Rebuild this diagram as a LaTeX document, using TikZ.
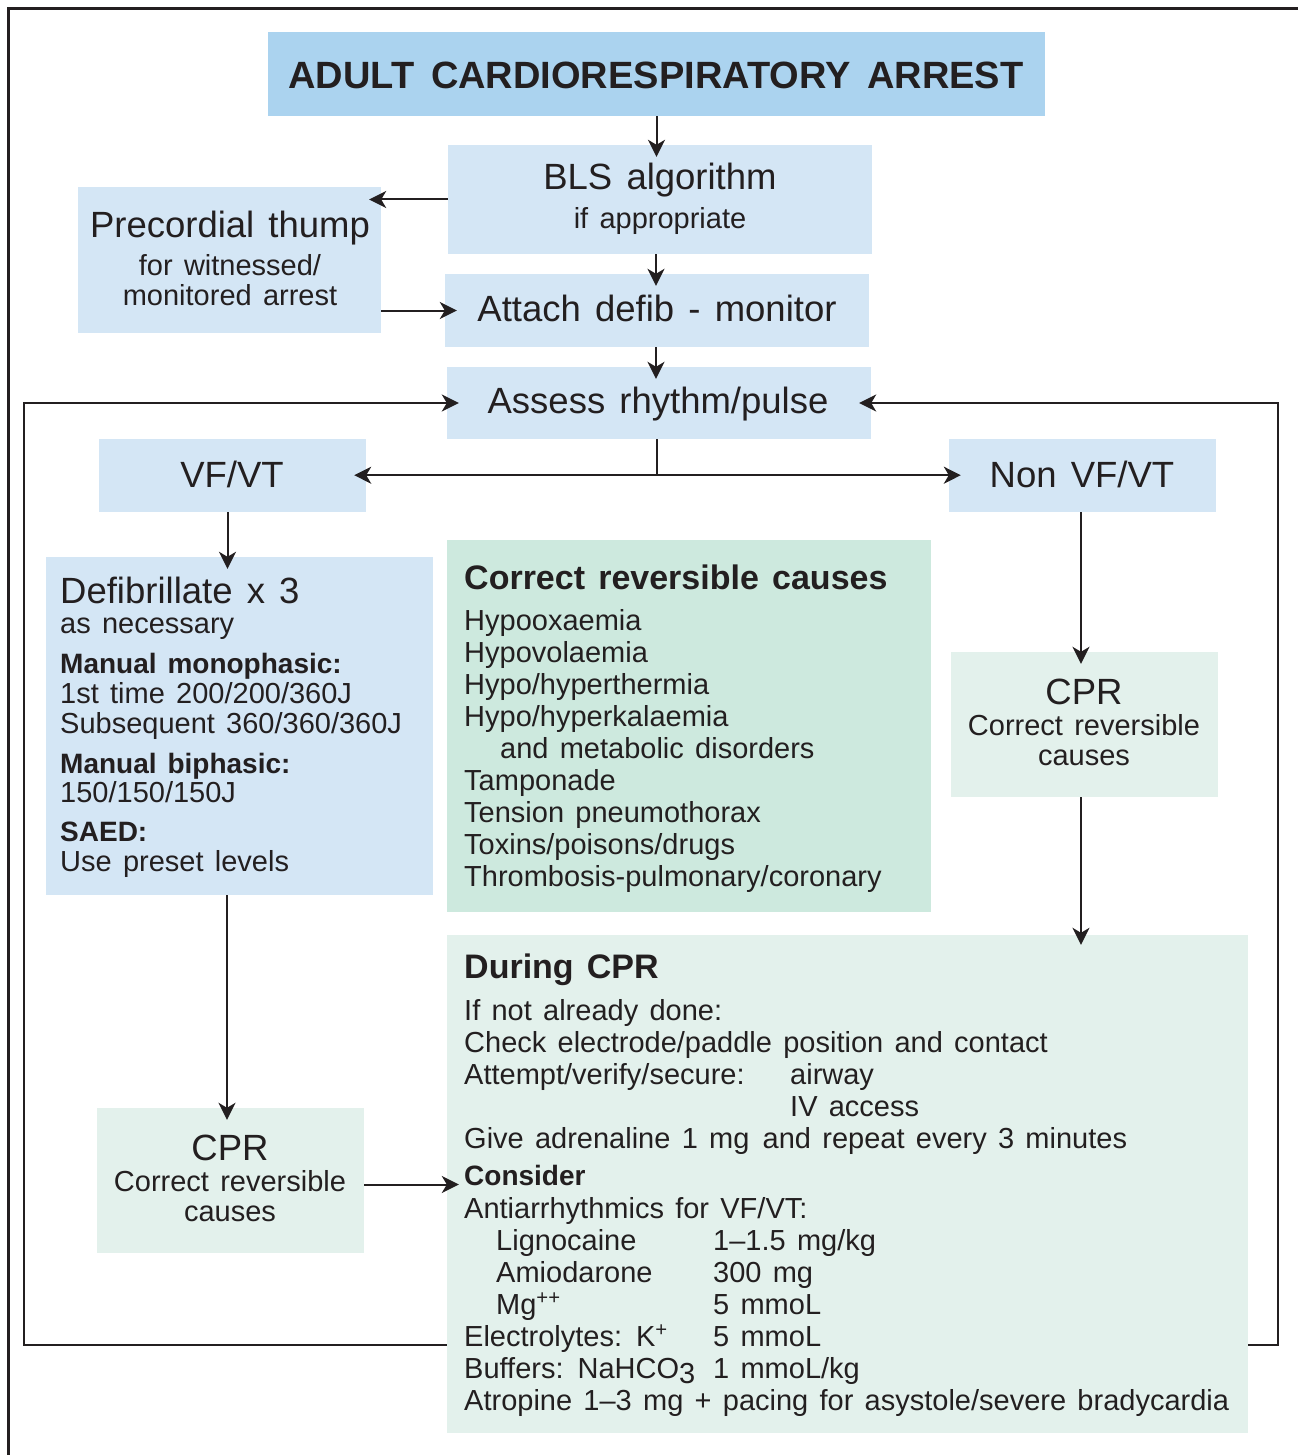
\documentclass[tikz,border=0pt]{standalone}
\usepackage{fontspec}
\setmainfont{Liberation Sans}[WordSpace=1.4]
\usetikzlibrary{arrows.meta,calc}
\definecolor{titleblue}{RGB}{171,211,239}
\definecolor{boxblue}{RGB}{212,230,245}
\definecolor{mint}{RGB}{205,233,222}
\definecolor{palegreen}{RGB}{227,241,236}
\definecolor{ink}{RGB}{35,31,32}
\newcommand\ftitle{\bfseries\fontsize{38}{42}\selectfont}
\newcommand\fbig{\fontsize{36.5}{40}\selectfont}
\newcommand\fbody{\fontsize{29}{32}\selectfont}
\newcommand\fhead{\bfseries\fontsize{34}{38}\selectfont}
\newcommand\fsub{\bfseries\fontsize{28}{32}\selectfont}
\begin{document}
\begin{tikzpicture}[x=1pt,y=-1pt,
  box/.style={rectangle, inner sep=0pt, draw=none},
  titlebox/.style={box, fill=titleblue},
  bluebox/.style={box, fill=boxblue},
  mintbox/.style={box, fill=mint},
  palebox/.style={box, fill=palegreen},
  arr/.style={-{Stealth[length=17pt,width=17pt,inset=5pt]}, line width=2pt, draw=ink},
  conn/.style={line width=2pt, draw=ink, line join=miter},
  tl/.style={inner sep=0pt, anchor=base west, text=ink, font=\fbody},
  tc/.style={inner sep=0pt, anchor=base, text=ink, font=\fbody},
]
\useasboundingbox (0,0) rectangle (1298,1455);
\fill[white] (0,0) rectangle (1298,1455);
% outer frame
\draw[line width=3pt, draw=ink] (8,1455) -- (8,9) -- (1298,9);

% boxes
\node[titlebox, minimum width=777pt, minimum height=84pt] (title) at (656.5,74) {};
\node[bluebox, minimum width=424pt, minimum height=109pt] (bls) at (660,199.5) {};
\node[bluebox, minimum width=303pt, minimum height=146pt] (prec) at (229.5,260) {};
\node[bluebox, minimum width=424pt, minimum height=73pt] (attach) at (657,310.5) {};
\node[bluebox, minimum width=424pt, minimum height=72pt] (assess) at (659,403) {};
\node[bluebox, minimum width=267pt, minimum height=73pt] (vf) at (232.5,475.5) {};
\node[bluebox, minimum width=267pt, minimum height=73pt] (nonvf) at (1082.5,475.5) {};
\node[bluebox, minimum width=387pt, minimum height=338pt] (defib) at (239.5,726) {};
\node[mintbox, minimum width=484pt, minimum height=372pt] (causes) at (689,726) {};
\node[palebox, minimum width=267pt, minimum height=145pt] (cprR) at (1084.5,724.5) {};
\node[palebox, minimum width=801pt, minimum height=498pt] (during) at (847.5,1184) {};
\node[palebox, minimum width=267pt, minimum height=145pt] (cprL) at (230.5,1180.5) {};

% texts: centred
\node[tc, font=\ftitle] (ttitle) at (656,89) {ADULT\hspace{2pt} CARDIORESPIRATORY\hspace{2pt} ARREST};
\node[tc, font=\fbig] (tbls1) at (660,190) {BLS algorithm};
\node[tc] (tbls2) at (660,229) {if appropriate};
\node[tc, font=\fbig] (tprec1) at (230,237) {Precordial thump};
\node[tc] (tprec2) at (230,275) {for witnessed/};
\node[tc] (tprec3) at (230,305) {monitored arrest};
\node[tc, font=\fbig] (tattach) at (657,321) {Attach defib - monitor};
\node[tc, font=\fbig] (tassess) at (658,413) {Assess rhythm/pulse};
\node[tc, font=\fbig] (tvf) at (232,487) {VF/VT};
\node[tc, font=\fbig] (tnonvf) at (1082,487) {Non VF/VT};
\node[tc, font=\fbig] (tcprR1) at (1084,704) {CPR};
\node[tc] (tcprR2) at (1084,735) {Correct reversible};
\node[tc] (tcprR3) at (1084,765) {causes};
\node[tc, font=\fbig] (tcprL1) at (230,1160) {CPR};
\node[tc] (tcprL2) at (230,1191) {Correct reversible};
\node[tc] (tcprL3) at (230,1221) {causes};

% defib box
\node[tl, font=\fbig] (d1) at (60,603) {Defibrillate x 3};
\node[tl] (d2) at (60,633) {as necessary};
\node[tl, font=\fsub] (d3) at (60,673) {Manual monophasic:};
\node[tl] (d4) at (60,703) {1st time 200/200/360J};
\node[tl] (d5) at (60,733) {Subsequent 360/360/360J};
\node[tl, font=\fsub] (d6) at (60,773) {Manual biphasic:};
\node[tl] (d7) at (60,802) {150/150/150J};
\node[tl, font=\fsub] (d8) at (60,841) {SAED:};
\node[tl] (d9) at (60,871) {Use preset levels};

% causes box
\node[tl, font=\fhead] (c0) at (464,589) {Correct reversible causes};
\node[tl] (c1) at (464,630) {Hypooxaemia};
\node[tl] (c2) at (464,662) {Hypovolaemia};
\node[tl] (c3) at (464,694) {Hypo/hyperthermia};
\node[tl] (c4) at (464,726) {Hypo/hyperkalaemia};
\node[tl] (c5) at (500,758) {and metabolic disorders};
\node[tl] (c6) at (464,790) {Tamponade};
\node[tl] (c7) at (464,822) {Tension pneumothorax};
\node[tl] (c8) at (464,854) {Toxins/poisons/drugs};
\node[tl] (c9) at (464,886) {Thrombosis-pulmonary/coronary};

% during CPR box
\node[tl, font=\fhead] (p0) at (464,978) {During CPR};
\node[tl] (p1) at (464,1020) {If not already done:};
\node[tl] (p2) at (464,1052) {Check electrode/paddle position and contact};
\node[tl] (p3) at (464,1084) {Attempt/verify/secure:};
\node[tl] (p3b) at (790,1084) {airway};
\node[tl] (p4) at (790,1116) {IV access};
\node[tl] (p5) at (464,1148) {Give adrenaline 1 mg\hspace{2pt} and repeat every 3 minutes};
\node[tl, font=\fsub] (p6) at (464,1185) {Consider};
\node[tl] (p7) at (464,1218) {Antiarrhythmics for VF/VT:};
\node[tl] (p8) at (496,1250) {Lignocaine};
\node[tl] (p8b) at (713,1250) {1–1.5 mg/kg};
\node[tl] (p9) at (496,1282) {Amiodarone};
\node[tl] (p9b) at (713,1282) {300 mg};
\node[tl] (p10) at (496,1314) {Mg\textsuperscript{++}};
\node[tl] (p10b) at (713,1314) {5 mmoL};
\node[tl] (p11) at (464,1346) {Electrolytes: K\textsuperscript{+}};
\node[tl] (p11b) at (713,1346) {5 mmoL};
\node[tl] (p12) at (464,1378) {Buffers: NaHCO\raisebox{-5pt}{3}};
\node[tl] (p12b) at (713,1378) {1 mmoL/kg};
\node[tl] (p13) at (464,1410) {Atropine 1–3 mg + pacing for asystole/severe bradycardia};

% connectors
\draw[arr] (title.south) -- ([yshift=-12pt]title.south |- bls.north);
\draw[arr] ([xshift=-4pt]bls.south) -- ([xshift=-4pt,yshift=-12pt]bls.south |- attach.north);
\draw[arr] ([xshift=-1pt]attach.south) -- ([xshift=-1pt,yshift=-12pt]attach.south |- assess.north);
\draw[arr] (bls.west) -- ([xshift=-12pt]bls.west -| prec.east);
\draw[arr] (prec.east |- attach.west) -- ([xshift=12pt]attach.west);

\coordinate (jn) at ($(assess.south -| title.south)+(0,36)$);
\draw[conn] (assess.south -| title.south) -- (jn);
\draw[arr] (jn) -- ([xshift=-12pt]jn -| vf.east);
\draw[arr] (jn) -- ([xshift=12pt]jn -| nonvf.west);

\draw[arr] ([xshift=-5pt]vf.south) -- ([xshift=-5pt,yshift=-12pt]vf.south |- defib.north);
\draw[conn] ([xshift=-12.5pt]defib.south) -- ([xshift=-12.5pt]defib.south |- cprL.north);
\draw[arr] ([xshift=-12.5pt]defib.south |- cprL.north) ++(0,-12) -- ++(0,24);
\draw[arr] ([yshift=-4pt]cprL.east) -- ([xshift=12pt,yshift=-4pt]cprL.east -| during.west);

\draw[arr] ([xshift=-1.5pt]nonvf.south) -- ([xshift=-1.5pt,yshift=-12pt]nonvf.south |- cprR.north);
\draw[arr] ([xshift=-3.5pt]cprR.south) -- ([xshift=-3.5pt,yshift=-10pt]cprR.south |- during.north);

% return loops
\coordinate (lb) at (24,1345);
\coordinate (rb) at (1278,1345);
\draw[arr] (during.west |- lb) -- (lb) -- (lb |- assess.west) -- ([xshift=12pt]assess.west);
\draw[arr] (during.east |- rb) -- (rb) -- (rb |- assess.east) -- ([xshift=-12pt]assess.east);
\end{tikzpicture}
\end{document}
